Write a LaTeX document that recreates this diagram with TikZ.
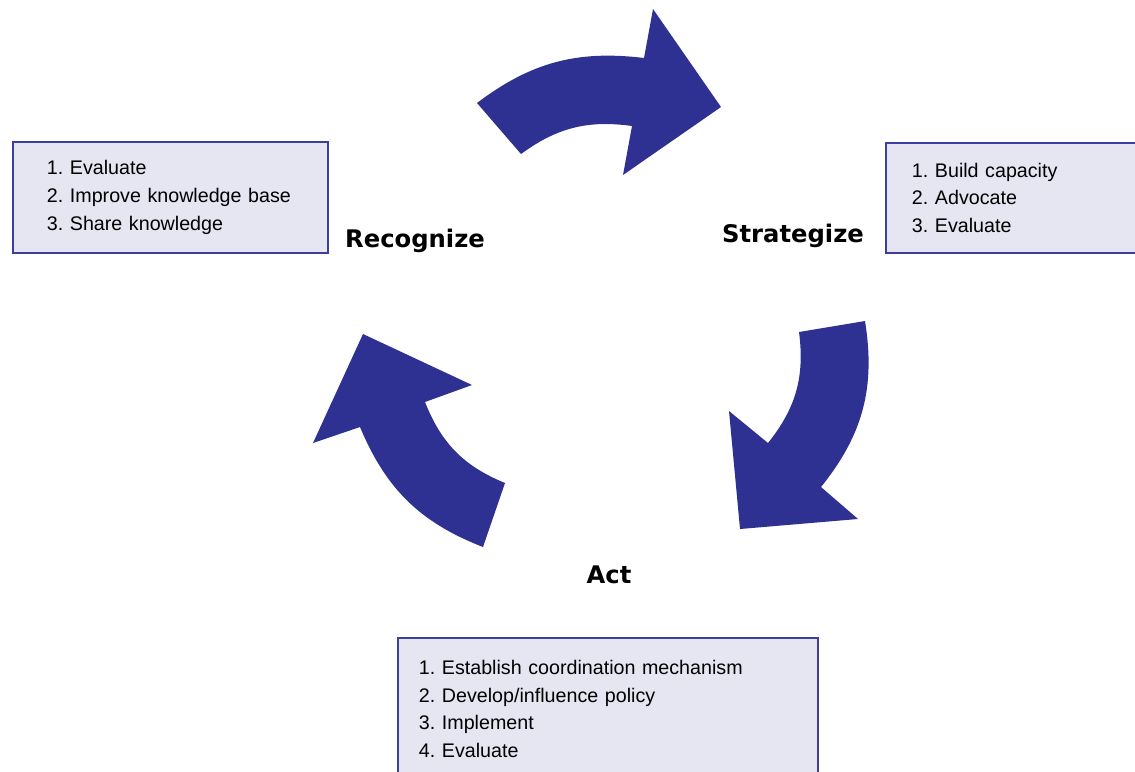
\documentclass[tikz,border=0pt]{standalone}
\usepackage{fontspec}
\setmainfont{Liberation Sans}
\newfontfamily\stagefont{DejaVu Sans}
\frenchspacing
\definecolor{arrowblue}{RGB}{46,49,146}
\definecolor{boxfill}{RGB}{230,229,242}
\definecolor{boxline}{RGB}{60,63,155}
\def \ListFont {\fontsize{11.2}{15.9}\selectfont}
\tikzstyle{listbox}=[
  draw=boxline,
  fill=boxfill,
  line width=1.1pt,
  rectangle,
  align=left,
  inner ysep=0pt,
  font=\ListFont
]
\tikzstyle{stage}=[
  anchor=base,
  font=\stagefont\bfseries\fontsize{13.8}{16}\selectfont
]
\tikzstyle{cyclearrow}=[
  fill=arrowblue
]

\begin{document}
\begin{tikzpicture}[x=0.02cm, y=-0.02cm]
          \useasboundingbox (0,0) rectangle (1135,771);

          % arrows
          \fill[cyclearrow] (477,103) to[bend left=22] (644,58) -- (653,9) -- (721,107)
            -- (623,175) -- (632,126) to[bend right=22] (521,154) -- cycle;
          \fill[cyclearrow] (865,321) to[bend left=24] (821,487) -- (858,519) -- (740,529)
            -- (729,411) -- (768,443) to[bend right=23] (799,332) -- cycle;
          \fill[cyclearrow] (483,547) to[bend left=23] (360,427) -- (313,443) -- (363,334)
            -- (472,385) -- (425,402) to[bend right=23] (505,483) -- cycle;

          % stages
          \node[stage] (recognize) at (415,247) {Recognize};
          \node[stage] (strategize) at (793,242) {Strategize};
          \node[stage] (act) at (609,583) {Act};

          % lists
          \node[listbox, anchor=north west, minimum width=6.3cm, minimum height=2.22cm,
                inner xsep=0.68cm, text width=4.94cm] (recognizebox) at (12,141)
            {1. Evaluate\\2. Improve knowledge base\\3. Share knowledge};
          \node[listbox, anchor=north west, minimum width=6cm, minimum height=2.2cm,
                inner xsep=0.52cm, text width=4.96cm] (strategizebox) at (885,142)
            {1. Build capacity\\2. Advocate\\3. Evaluate};
          \node[listbox, anchor=north west, minimum width=8.4cm, minimum height=2.84cm,
                inner xsep=0.42cm, text width=7.56cm] (actbox) at (397,637)
            {1. Establish coordination mechanism\\2. Develop/influence policy\\3. Implement\\4. Evaluate};
        \end{tikzpicture}
\end{document}
